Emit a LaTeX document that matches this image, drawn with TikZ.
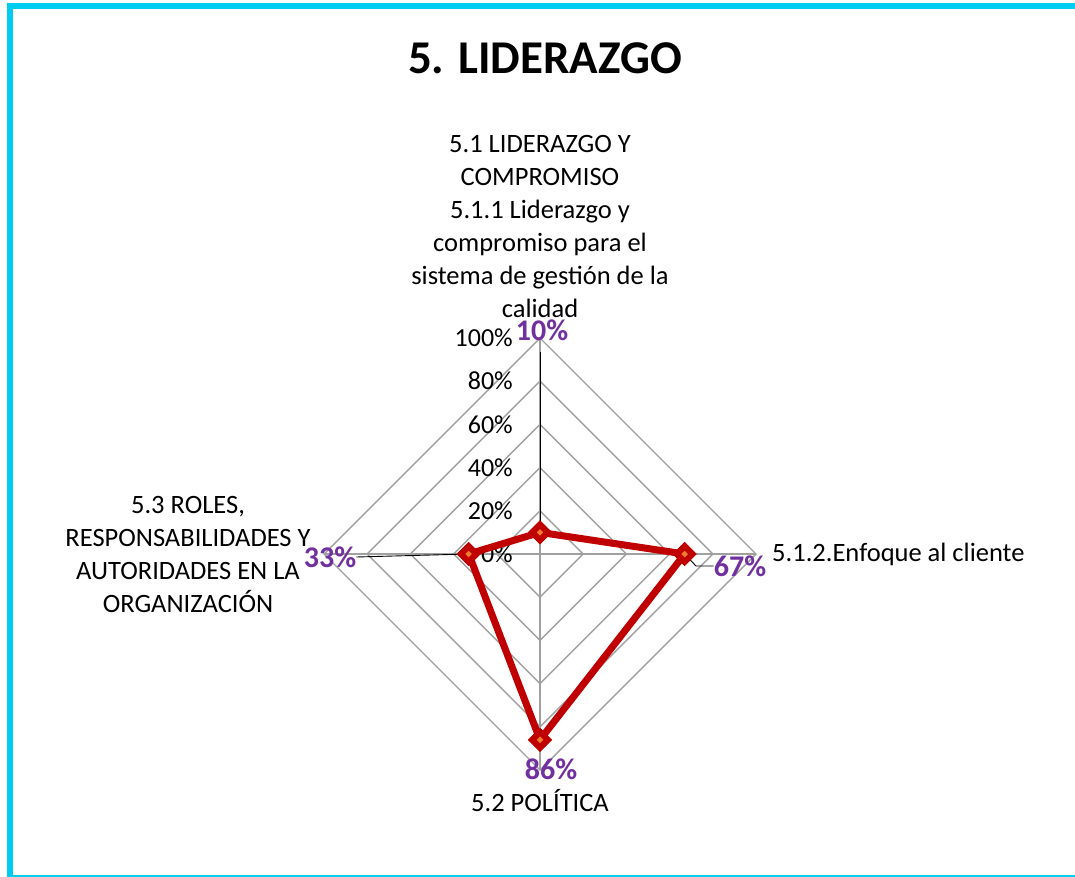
\documentclass[tikz,border=0pt]{standalone}
\usepackage{fontspec}
\setmainfont{Carlito}
\usetikzlibrary{shapes.geometric}
\definecolor{marco}{HTML}{00CCF2}
\definecolor{rojo}{HTML}{C00000}
\definecolor{naranja}{HTML}{ED7D31}
\definecolor{morado}{HTML}{7030A0}
\definecolor{rejilla}{HTML}{A0A0A0}
\tikzset{
  etiq/.style={font=\fontsize{26.5}{33}\selectfont, align=center, inner sep=0pt},
  pct/.style={font=\fontsize{30}{32}\selectfont\bfseries, text=morado, inner sep=0pt},
  eje/.style={font=\fontsize{26}{30}\selectfont, anchor=east, inner sep=0pt},
  marca/.style={diamond, draw=rojo, fill=naranja, line width=6pt, inner sep=0pt, minimum size=18pt},
  guia/.style={black, line width=0.9pt},
}
\begin{document}
\begin{tikzpicture}[x=1pt,y=-1pt]
    \def\cx{540} % centre x
    \def\cy{554} % centre y
    \def\st{43.2} % one 20% step
    \clip (0,0) rectangle (1075,877);
    \draw [marco, line width=6pt] (10,6) rectangle (1085,878); % frame

    % grid diamonds
    \foreach \k in {1,...,5}
    {
    \draw [rejilla, line width=1.4pt] (\cx,\cy-\k*\st) -- (\cx+\k*\st,\cy)
          -- (\cx,\cy+\k*\st) -- (\cx-\k*\st,\cy) -- cycle;
    }
    \coordinate (c) at (\cx,\cy);
    \coordinate (n) at (\cx,\cy-5*\st);
    \coordinate (e) at (\cx+5*\st,\cy);
    \coordinate (s) at (\cx,\cy+5*\st);
    \coordinate (w) at (\cx-5*\st,\cy);
    \foreach \v in {n,e,s,w}
        \draw [rejilla, line width=1.4pt] (c) -- (\v);

    % axis values
    \foreach \p [count=\i from 0] in {0,20,...,100}
        \node [eje] (t\p) at (513,\cy-\i*\st) {\p\%};

    % data points
    \node [marca] (d1) at (\cx,\cy-0.10*5*\st) {};
    \node [marca] (d2) at (\cx+0.67*5*\st,\cy) {};
    \node [marca] (d3) at (\cx,\cy+0.86*5*\st) {};
    \node [marca] (d4) at (\cx-0.33*5*\st,\cy) {};

    % data labels
    \node [pct] (p1) at (542,330) {10\%};
    \node [pct] (p2) at (740,566) {67\%};
    \node [pct] (p3) at (551,769) {86\%};
    \node [pct] (p4) at (330,557) {33\%};
    \coordinate (q1) at (\cx,352);
    \coordinate (q2) at (696,566);
    \draw [guia] (d1.center) -- (q1);
    \draw [guia] (d2.center) -- (q2) -- (p2.west);
    \draw [guia] (d4.center) -- (p4.east);

    % series line
    \draw [rojo, line width=7pt, line join=round]
        (d1.center) -- (d2.center) -- (d3.center) -- (d4.center) -- cycle;
    \foreach \d in {d1,d2,d3,d4}
        \node [marca] at (\d) {};

    % categories
    \node [etiq] (cat1) at (540,226) {5.1 LIDERAZGO Y\\COMPROMISO\\5.1.1 Liderazgo y\\compromiso para el\\sistema de gestión de la\\calidad};
    \node [etiq, anchor=west] (cat2) at (772,554) {5.1.2.Enfoque al cliente};
    \node [etiq] (cat3) at (540,801) {5.2 POLÍTICA};
    \node [etiq] (cat4) at (188,554) {5.3 ROLES,\\RESPONSABILIDADES Y\\AUTORIDADES EN LA\\ORGANIZACIÓN};

    \node [font=\fontsize{47}{52}\selectfont\bfseries] (titulo) at (545,58) {5. LIDERAZGO};
\end{tikzpicture}
\end{document}
